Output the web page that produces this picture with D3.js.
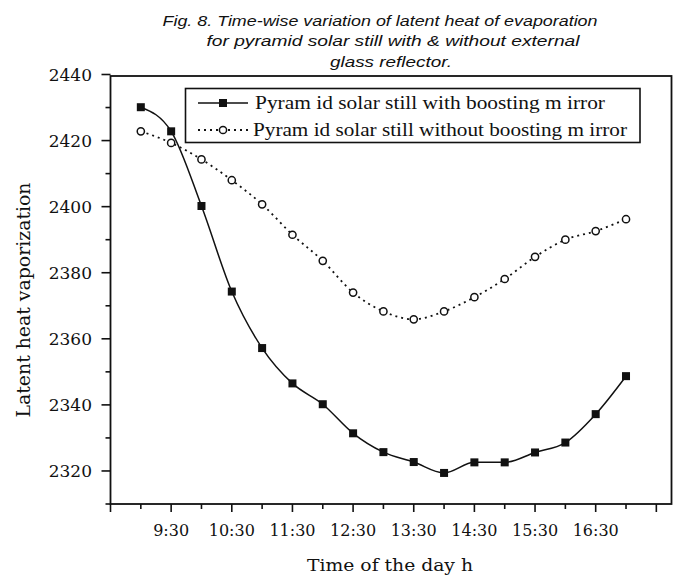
<!DOCTYPE html>
<html>
<head>
<meta charset="utf-8">
<script src="https://cdn.jsdelivr.net/npm/d3@7/dist/d3.min.js"></script>
<style>
  html, body { margin: 0; padding: 0; background: #fff; }
  svg { display: block; }
</style>
</head>
<body>
<svg id="chart" width="694" height="578"></svg>
<script>
// ---- data ----
const times = ["9:00","9:30","10:00","10:30","11:00","11:30","12:00","12:30","13:00",
               "13:30","14:00","14:30","15:00","15:30","16:00","16:30","17:00"];
const withMirror = [2430.1, 2422.8, 2400.2, 2374.3, 2357.2, 2346.5, 2340.2, 2331.4, 2325.7,
                    2322.7, 2319.4, 2322.6, 2322.6, 2325.6, 2328.6, 2337.2, 2348.7];
const withoutMirror = [2422.8, 2419.3, 2414.3, 2408.0, 2400.7, 2391.5, 2383.6, 2374.0, 2368.3,
                       2365.9, 2368.3, 2372.6, 2378.1, 2384.8, 2390.0, 2392.6, 2396.2];
const xTickLabels = ["9:30","10:30","11:30","12:30","13:30","14:30","15:30","16:30"];
const yTickValues = [2320, 2340, 2360, 2380, 2400, 2420, 2440];
const seriesNames = ["Pyram id solar still with boosting m irror",
                     "Pyram id solar still without boosting m irror"];
const titleLines = ["Fig. 8. Time-wise variation of latent heat of evaporation",
                    "for pyramid solar  still with & without external",
                    "glass reflector."];
const xAxisTitle = "Time of the day h";
const yAxisTitle = "Latent heat vaporization";

// ---- helpers ----
const toMin = s => { const [h, m] = s.split(":").map(Number); return h * 60 + m; };

const svg = d3.select("#chart");
const L = 110.5, R = 671.5, T = 76, B = 504;

const x = d3.scaleLinear().domain([toMin("8:30"), toMin("17:45")]).range([L, R]);
const y = d3.scaleLinear().domain([2310, 2440]).range([B, 74.5]);

const serif = "DejaVu Serif, serif";

// ---- title ----
const titlePos = [{cx: 380, y: 26, w: 435}, {cx: 393, y: 46, w: 373}, {cx: 391, y: 67, w: 122}];
svg.append("g").selectAll("text").data(titleLines).join("text")
  .attr("x", (d, i) => titlePos[i].cx)
  .attr("y", (d, i) => titlePos[i].y)
  .attr("text-anchor", "middle")
  .attr("textLength", (d, i) => titlePos[i].w)
  .attr("lengthAdjust", "spacingAndGlyphs")
  .style("font-family", "Liberation Sans, Arial, sans-serif")
  .style("font-style", "italic")
  .style("font-size", "15.5px")
  .style("fill", "#111")
  .text(d => d);

// ---- frame ----
svg.append("rect")
  .attr("x", L).attr("y", T).attr("width", R - L).attr("height", B - T)
  .attr("fill", "none").attr("stroke", "#111").attr("stroke-width", 1.8);

// ---- x axis ticks ----
const xMajor = d3.range(toMin("8:30"), toMin("17:30") + 1, 60);
const xMinor = d3.range(toMin("9:00"), toMin("17:00") + 1, 60);
const gx = svg.append("g");
gx.selectAll("line.maj").data(xMajor).join("line").attr("class", "maj")
  .attr("x1", d => x(d)).attr("x2", d => x(d)).attr("y1", B).attr("y2", B + 8)
  .attr("stroke", "#111").attr("stroke-width", 1.6);
gx.selectAll("line.min").data(xMinor).join("line").attr("class", "min")
  .attr("x1", d => x(d)).attr("x2", d => x(d)).attr("y1", B).attr("y2", B + 5)
  .attr("stroke", "#111").attr("stroke-width", 1.6);
gx.selectAll("text").data(xTickLabels).join("text")
  .attr("x", d => x(toMin(d))).attr("y", 536)
  .attr("text-anchor", "middle")
  .style("font-family", serif).style("font-size", "16px").style("fill", "#111")
  .text(d => d);

// ---- y axis ticks ----
const yMinor = d3.range(2310, 2431, 20);
const gy = svg.append("g");
gy.selectAll("line.maj").data(yTickValues).join("line").attr("class", "maj")
  .attr("x1", L - 9).attr("x2", L).attr("y1", d => y(d)).attr("y2", d => y(d))
  .attr("stroke", "#111").attr("stroke-width", 1.6);
gy.selectAll("line.min").data(yMinor).join("line").attr("class", "min")
  .attr("x1", L - 5).attr("x2", L).attr("y1", d => y(d)).attr("y2", d => y(d))
  .attr("stroke", "#111").attr("stroke-width", 1.6);
gy.selectAll("text").data(yTickValues).join("text")
  .attr("x", 92).attr("y", d => y(d)).attr("dy", "0.36em")
  .attr("text-anchor", "end")
  .style("font-family", serif).style("font-size", "17px").style("fill", "#111")
  .text(d => d);

// ---- axis titles ----
svg.append("text")
  .attr("x", 390).attr("y", 571)
  .attr("text-anchor", "middle")
  .attr("textLength", 166).attr("lengthAdjust", "spacingAndGlyphs")
  .style("font-family", serif).style("font-size", "16px").style("fill", "#111")
  .text(xAxisTitle);

svg.append("text")
  .attr("transform", "translate(30,300) rotate(-90)")
  .attr("text-anchor", "middle")
  .attr("textLength", 235).attr("lengthAdjust", "spacingAndGlyphs")
  .style("font-family", serif).style("font-size", "18px").style("fill", "#111")
  .text(yAxisTitle);

// ---- lines ----
const pts1 = times.map((t, i) => [x(toMin(t)), y(withMirror[i])]);
const pts2 = times.map((t, i) => [x(toMin(t)), y(withoutMirror[i])]);
const line = d3.line().curve(d3.curveMonotoneX);

svg.append("path").attr("d", line(pts2))
  .attr("fill", "none").attr("stroke", "#111").attr("stroke-width", 1.8)
  .attr("stroke-dasharray", "2,4");
svg.append("path").attr("d", line(pts1))
  .attr("fill", "none").attr("stroke", "#111").attr("stroke-width", 1.5);

// markers
svg.append("g").selectAll("circle").data(pts2).join("circle")
  .attr("cx", d => d[0]).attr("cy", d => d[1]).attr("r", 3.6)
  .attr("fill", "#fff").attr("stroke", "#111").attr("stroke-width", 1.5);
svg.append("g").selectAll("rect").data(pts1).join("rect")
  .attr("x", d => d[0] - 4).attr("y", d => d[1] - 4)
  .attr("width", 8).attr("height", 8).attr("fill", "#111");

// ---- legend ----
const lg = svg.append("g");
lg.append("rect").attr("x", 185.5).attr("y", 88.5).attr("width", 454.5).attr("height", 54)
  .attr("fill", "#fff").attr("stroke", "#111").attr("stroke-width", 1.6);
const rowY = [103, 130];
const textW = [350, 374];
const textX = [255, 253];
seriesNames.forEach((name, i) => {
  lg.append("line").attr("x1", 198).attr("x2", 248).attr("y1", rowY[i]).attr("y2", rowY[i])
    .attr("stroke", "#111").attr("stroke-width", i === 0 ? 1.5 : 1.8)
    .attr("stroke-dasharray", i === 0 ? null : "2,4");
  if (i === 0) {
    lg.append("rect").attr("x", 223 - 4).attr("y", rowY[i] - 4).attr("width", 8).attr("height", 8).attr("fill", "#111");
  } else {
    lg.append("circle").attr("cx", 223).attr("cy", rowY[i]).attr("r", 3.6)
      .attr("fill", "#fff").attr("stroke", "#111").attr("stroke-width", 1.5);
  }
  lg.append("text").attr("x", textX[i]).attr("y", rowY[i]).attr("dy", "0.35em")
    .attr("textLength", textW[i]).attr("lengthAdjust", "spacingAndGlyphs")
    .style("font-family", "Liberation Serif, Times New Roman, serif")
    .style("font-size", "18px").style("fill", "#111")
    .text(name);
});
</script>
</body>
</html>
